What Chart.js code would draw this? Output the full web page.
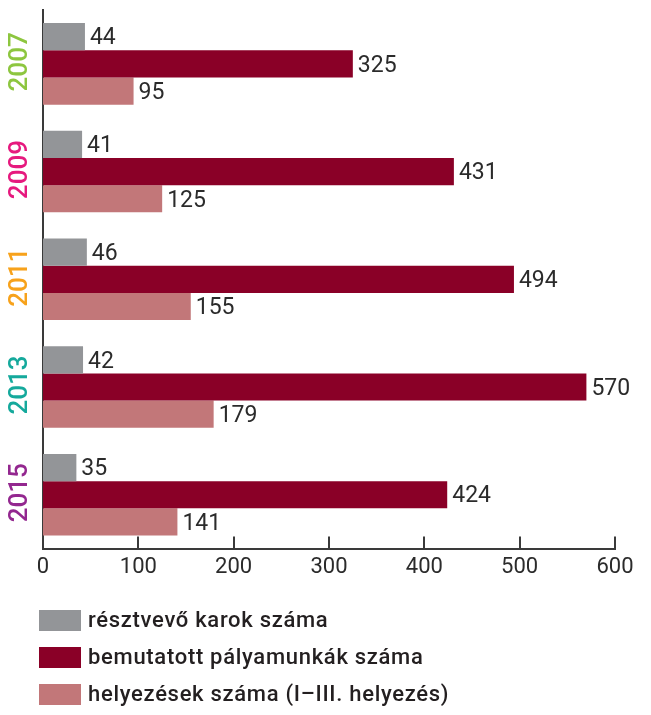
<!DOCTYPE html>
<html>
<head>
<meta charset="utf-8">
<script src="https://cdn.jsdelivr.net/npm/chart.js@4/dist/chart.umd.min.js"></script>
<style>
  html, body { margin: 0; padding: 0; background: #fff; }
  #wrap { width: 651px; height: 715px; }
</style>
</head>
<body>
<div id="wrap"><canvas id="barChart" width="651" height="715"></canvas></div>
<script>
const years = ['2007', '2009', '2011', '2013', '2015'];
const yearColors = ['#8dc63f', '#e6197e', '#f7a21b', '#15a99c', '#93278f'];
const karok = [44, 41, 46, 42, 35];
const palyamunkak = [325, 431, 494, 570, 424];
const helyezesek = [95, 125, 155, 179, 141];
const seriesNames = ['résztvevő karok száma', 'bemutatott pályamunkák száma', 'helyezések száma (I–III. helyezés)'];
const seriesColors = ['#939598', '#8a0027', '#c27779'];
const xTicks = [0, 100, 200, 300, 400, 500, 600];

const txtColor = '#2b2b2b';
const axisColor = '#3a3a3a';
const fontFam = 'Roboto, "DejaVu Sans", sans-serif';

// value labels next to the bars
const valueLabels = {
  id: 'valueLabels',
  afterDatasetsDraw(chart) {
    const ctx = chart.ctx;
    ctx.save();
    ctx.font = '23px ' + fontFam;
    ctx.fillStyle = txtColor;
    ctx.textBaseline = 'middle';
    ctx.textAlign = 'left';
    chart.data.datasets.forEach((ds, i) => {
      chart.getDatasetMeta(i).data.forEach((el, j) => {
        ctx.fillText(ds.data[j], el.x + 5, el.y + 2);
      });
    });
    ctx.restore();
  }
};

// rotated year labels, inward tick marks, legend
const extras = {
  id: 'extras',
  afterDraw(chart) {
    const ctx = chart.ctx;
    const x = chart.scales.x, y = chart.scales.y;
    ctx.save();
    // year labels
    ctx.font = '500 26px ' + fontFam;
    ctx.textAlign = 'center';
    ctx.textBaseline = 'middle';
    years.forEach((yr, i) => {
      ctx.save();
      ctx.translate(20, y.getPixelForValue(i) - 2);
      ctx.rotate(-Math.PI / 2);
      ctx.fillStyle = yearColors[i];
      ctx.fillText(yr, 0, 0);
      ctx.restore();
    });
    // tick marks pointing up
    ctx.strokeStyle = axisColor;
    ctx.lineWidth = 2;
    const b = chart.chartArea.bottom;
    xTicks.slice(1).forEach(v => {
      const px = Math.round(x.getPixelForValue(v));
      ctx.beginPath();
      ctx.moveTo(px, b);
      ctx.lineTo(px, b - 12);
      ctx.stroke();
    });
    // legend
    const rows = [620, 657, 694];
    ctx.font = '500 22px ' + fontFam;
    ctx.letterSpacing = '0.7px';
    ctx.textAlign = 'left';
    chart.data.datasets.forEach((ds, i) => {
      ctx.fillStyle = ds.backgroundColor;
      ctx.fillRect(39, rows[i] - 10, 42, 21);
      ctx.fillStyle = '#231f20';
      ctx.fillText(ds.label, 88, rows[i] + 1);
    });
    ctx.restore();
  }
};

new Chart(document.getElementById('barChart'), {
  type: 'bar',
  data: {
    labels: years,
    datasets: [
      { label: seriesNames[0], data: karok, backgroundColor: seriesColors[0] },
      { label: seriesNames[1], data: palyamunkak, backgroundColor: seriesColors[1] },
      { label: seriesNames[2], data: helyezesek, backgroundColor: seriesColors[2] }
    ]
  },
  options: {
    indexAxis: 'y',
    responsive: false,
    animation: false,
    layout: { padding: { top: 10, right: 36, bottom: 128, left: 0 } },
    datasets: {
      bar: { categoryPercentage: 0.757, barPercentage: 1, borderWidth: 0 }
    },
    scales: {
      x: {
        min: 0,
        max: 600,
        afterBuildTicks: (s) => { s.ticks = xTicks.map(v => ({ value: v })); },
        grid: { display: false, drawTicks: false },
        border: { display: true, color: axisColor, width: 2 },
        ticks: {
          color: txtColor,
          font: { size: 22, family: fontFam },
          padding: 6
        }
      },
      y: {
        afterFit: (s) => { s.width = 43; },
        grid: { display: false, drawTicks: false },
        border: { display: true, color: axisColor, width: 2 },
        ticks: { display: false }
      }
    },
    plugins: {
      legend: { display: false },
      tooltip: { enabled: false }
    }
  },
  plugins: [valueLabels, extras]
});
</script>
</body>
</html>
